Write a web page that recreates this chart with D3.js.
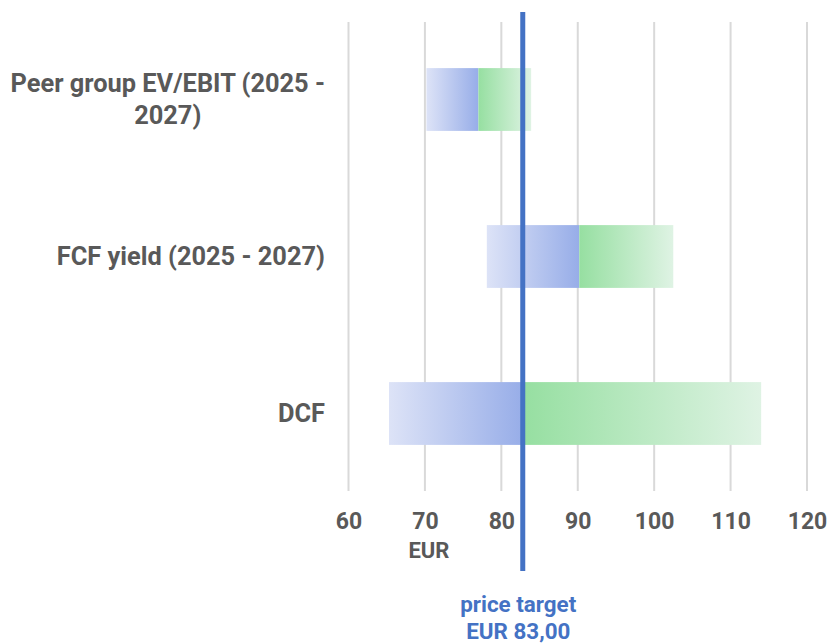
<!DOCTYPE html>
<html><head><meta charset="utf-8">
<script src="https://cdn.jsdelivr.net/npm/d3@7"></script>
<style>
html,body{margin:0;padding:0;background:#fff;}
svg{display:block;font-family:Roboto, "Noto Sans", sans-serif;}
</style></head>
<body><svg id="chart" width="828" height="643"></svg>
<script>
const categories = ["Peer group EV/EBIT (2025 - 2027)", "FCF yield (2025 - 2027)", "DCF"];
const categoryLines = [["Peer group EV/EBIT (2025 -", "2027)"], ["FCF yield (2025 - 2027)"], ["DCF"]];
const lowValues = [70.2, 78.1, 65.3];
const midValues = [77.0, 90.2, 82.9];
const highValues = [83.9, 102.5, 114.0];
const tickValues = [60, 70, 80, 90, 100, 110, 120];
const priceTarget = 83;
const priceLabel = ["price target", "EUR 83,00"];
const unitLabel = "EUR";

const svg = d3.select("#chart");
const x = d3.scaleLinear().domain([60, 120]).range([348.5, 807]);
const y = d3.scaleBand().domain(categories).range([21, 492]).paddingInner(0.6).paddingOuter(0.3);

const defs = svg.append("defs");
const gb = defs.append("linearGradient").attr("id", "gBlue").attr("x1", "0").attr("x2", "1").attr("y1", "0").attr("y2", "0");
gb.append("stop").attr("offset", "0").attr("stop-color", "#dde3f7");
gb.append("stop").attr("offset", "1").attr("stop-color", "#97ade8");
const gg = defs.append("linearGradient").attr("id", "gGreen").attr("x1", "0").attr("x2", "1").attr("y1", "0").attr("y2", "0");
gg.append("stop").attr("offset", "0").attr("stop-color", "#96dfa1");
gg.append("stop").attr("offset", "1").attr("stop-color", "#dff3e4");

// gridlines
svg.append("g").selectAll("line").data(tickValues).join("line")
  .attr("x1", d => x(d)).attr("x2", d => x(d))
  .attr("y1", 22).attr("y2", 491)
  .attr("stroke", "#d9d9d9").attr("stroke-width", 2);

// axis
const axis = svg.append("g").attr("transform", "translate(0,491)")
  .call(d3.axisBottom(x).tickValues(tickValues).tickSize(0).tickPadding(0).tickFormat(d3.format("d")));
axis.select(".domain").remove();
axis.selectAll("text").attr("font-family", "Roboto").attr("font-weight", "bold")
  .attr("font-size", 23).attr("fill", "#595959").attr("dy", null).attr("y", 38);

svg.append("text").attr("x", x(70) + 4).attr("y", 558).attr("text-anchor", "middle")
  .attr("font-weight", "bold").attr("font-size", 22).attr("fill", "#595959").text(unitLabel);

// bars
const rows = categories.map((c, i) => ({c, lo: lowValues[i], mid: midValues[i], hi: highValues[i], lines: categoryLines[i]}));
const bars = svg.append("g");
bars.selectAll("rect.blue").data(rows).join("rect").attr("class", "blue")
  .attr("x", d => x(d.lo)).attr("width", d => x(d.mid) - x(d.lo))
  .attr("y", d => y(d.c)).attr("height", y.bandwidth()).attr("fill", "url(#gBlue)");
bars.selectAll("rect.green").data(rows).join("rect").attr("class", "green")
  .attr("x", d => x(d.mid)).attr("width", d => x(d.hi) - x(d.mid))
  .attr("y", d => y(d.c)).attr("height", y.bandwidth()).attr("fill", "url(#gGreen)");

// category labels
const labelRight = 325;
const lh = 32;
rows.forEach(r => {
  const g = svg.append("g");
  const n = r.lines.length;
  const cy = y(r.c) + y.bandwidth() / 2;
  const texts = r.lines.map((t, j) => g.append("text")
    .attr("y", cy + (j - (n - 1) / 2) * lh).attr("dy", "0.35em")
    .attr("font-weight", "bold").attr("font-size", 25.4).attr("fill", "#595959").text(t));
  const maxW = d3.max(texts, t => t.node().getComputedTextLength());
  texts.forEach(t => t.attr("text-anchor", "middle").attr("x", labelRight - maxW / 2));
});

// price target line
svg.append("line").attr("x1", x(priceTarget) - 1.5).attr("x2", x(priceTarget) - 1.5)
  .attr("y1", 12).attr("y2", 571).attr("stroke", "#4472c4").attr("stroke-width", 5);

svg.selectAll("text.pt").data(priceLabel).join("text").attr("class", "pt")
  .attr("x", x(priceTarget) - 6).attr("y", (d, i) => 612 + i * 27)
  .attr("text-anchor", "middle").attr("font-weight", "bold").attr("font-size", 22.4)
  .attr("fill", "#4472c4").text(d => d);
</script></body></html>
